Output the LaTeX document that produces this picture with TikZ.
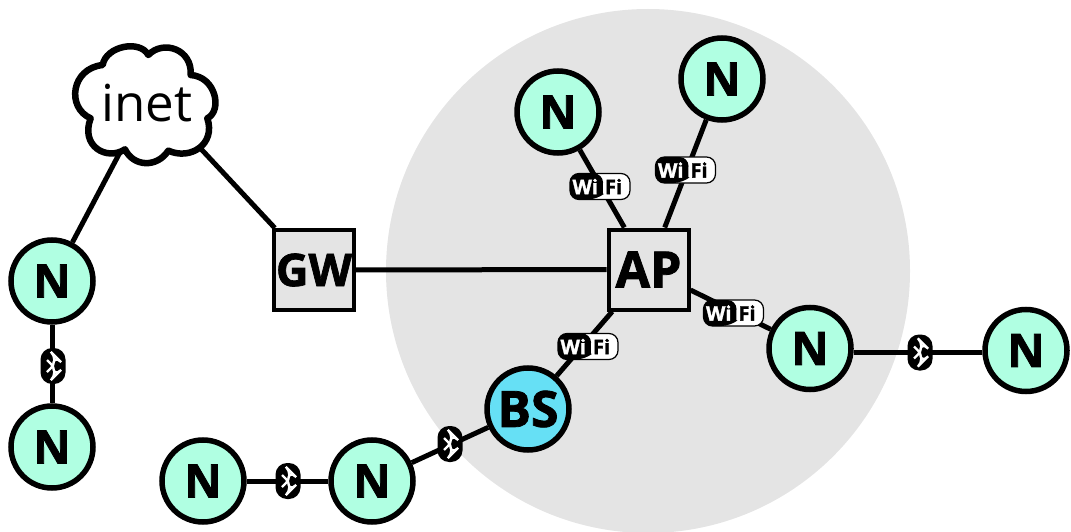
\documentclass[tikz,border=0pt]{standalone}
\usepackage{fontspec}
\setmainfont[BoldFeatures={FakeBold=1.6}]{Open Sans}
\definecolor{mint}{HTML}{B0FFE2}
\definecolor{bscyan}{HTML}{66E0F5}
\definecolor{zone}{HTML}{E4E4E4}
\newcommand{\fsz}[1]{\fontsize{#1}{#1}\selectfont}
\tikzset{
  x=1pt,y=-1pt,
  link/.style={line width=5pt,black},
  hostnode/.style={circle,draw=black,fill=mint,line width=5.5pt,minimum size=82pt,inner sep=0pt,font=\fsz{46}\bfseries},
  basenode/.style={hostnode,fill=bscyan,font=\fsz{50}\bfseries},
  boxnode/.style={rectangle,draw=black,fill=zone,line width=4pt,minimum size=80pt,inner sep=0pt,font=\fsz{45}\bfseries},
  apnode/.style={boxnode,font=\fsz{50}\bfseries},
  wifibadge/.style={rectangle,rounded corners=9pt,draw=black,fill=white,line width=1.2pt,minimum width=60pt,minimum height=26pt,inner sep=0pt,
    font=\fsz{20}\bfseries,
    path picture={
      \fill[black] ([xshift=-2pt]path picture bounding box.north west) -- ([xshift=3pt]path picture bounding box.north) .. controls ([xshift=3pt,yshift=-16pt]path picture bounding box.north) and ([xshift=2pt,yshift=-22pt]path picture bounding box.north) .. ([xshift=-3pt]path picture bounding box.south) -- (path picture bounding box.south west) -- cycle;
    }},
  btbadge/.style={rectangle,rounded corners=11.5pt,fill=black,minimum width=25pt,minimum height=36pt,inner sep=0pt,
    path picture={
      \draw[white,line width=2.2pt,line join=miter]
        ([shift={(-6pt,-6pt)}]path picture bounding box.center) --
        ([shift={(6pt,6pt)}]path picture bounding box.center) --
        ([shift={(0pt,12pt)}]path picture bounding box.center) --
        ([shift={(0pt,-12pt)}]path picture bounding box.center) --
        ([shift={(6pt,-6pt)}]path picture bounding box.center) --
        ([shift={(-6pt,6pt)}]path picture bounding box.center);
    }},
}
\newcommand{\wifitext}{\hspace{3pt}\makebox[0pt][r]{\textcolor{white}{Wi}}\hspace{7pt}\makebox[0pt][l]{\textcolor{black}{Fi}}}
\begin{document}
\begin{tikzpicture}
\useasboundingbox (0,0) rectangle (1071,532);
\fill[zone] (648,271) circle [radius=262];

\coordinate (inetA) at (145,105);
\coordinate (inetB) at (160,105);
\coordinate (btline) at (920,352.5);

\node[hostnode] (n1) at (558,112) {N};
\node[hostnode] (n2) at (722,79) {N};
\node[hostnode] (n3) at (52,281) {N};
\node[hostnode] (n4) at (52,447) {N};
\node[hostnode] (n5) at (203,481) {N};
\node[hostnode] (n6) at (372,481) {N};
\node[hostnode] (n7) at (810,348.5) {N};
\node[hostnode] (n8) at (1026,350.5) {N};
\node[basenode] (bs) at (528,409) {BS};
\node[boxnode] (gw) at (314,270) {GW};
\node[apnode] (ap) at (648.5,269.5) {AP};

\draw[link] (inetA) -- (n3);
\draw[link] (inetB) -- (gw);
\draw[link] (gw) -- (ap);
\draw[link] (n1) -- (ap);
\draw[link] (n2) -- (ap);
\draw[link] (n3) -- (n4);
\draw[link] (n5) -- (n6);
\draw[link] (n6) -- (bs);
\draw[link] (ap) -- (bs);
\draw[link] (ap) -- (n7);
\draw[link] (n7.east |- btline) -- (n8.west |- btline);

\begin{scope}[shift={(50,30)},x=0.3333pt,y=-0.3333pt]
\draw[black,fill=white,line width=6.5pt,line join=round]
  (158,105) .. controls (168,48) and (270,28) .. (295,75)
  .. controls (340,28) and (428,58) .. (422,135)
  .. controls (498,140) and (518,242) .. (472,265)
  .. controls (498,342) and (422,392) .. (355,362)
  .. controls (320,415) and (250,410) .. (225,358)
  .. controls (170,394) and (90,348) .. (122,265)
  .. controls (48,232) and (64,115) .. (158,105) -- cycle;
\end{scope}
\node[inner sep=0pt,font=\fsz{51}] (inet) at (147,103) {inet};

\node[wifibadge] (w1) at (600,186.5) {\wifitext};
\node[wifibadge] (w2) at (685.5,170) {\wifitext};
\node[wifibadge] (w3) at (733.5,313) {\wifitext};
\node[wifibadge] (w4) at (588,346.5) {\wifitext};

\node[btbadge] (b1) at (53,366) {};
\node[btbadge] (b2) at (288,481) {};
\node[btbadge] (b3) at (450,444) {};
\node[btbadge] (b4) at (btline) {};
\end{tikzpicture}
\end{document}
